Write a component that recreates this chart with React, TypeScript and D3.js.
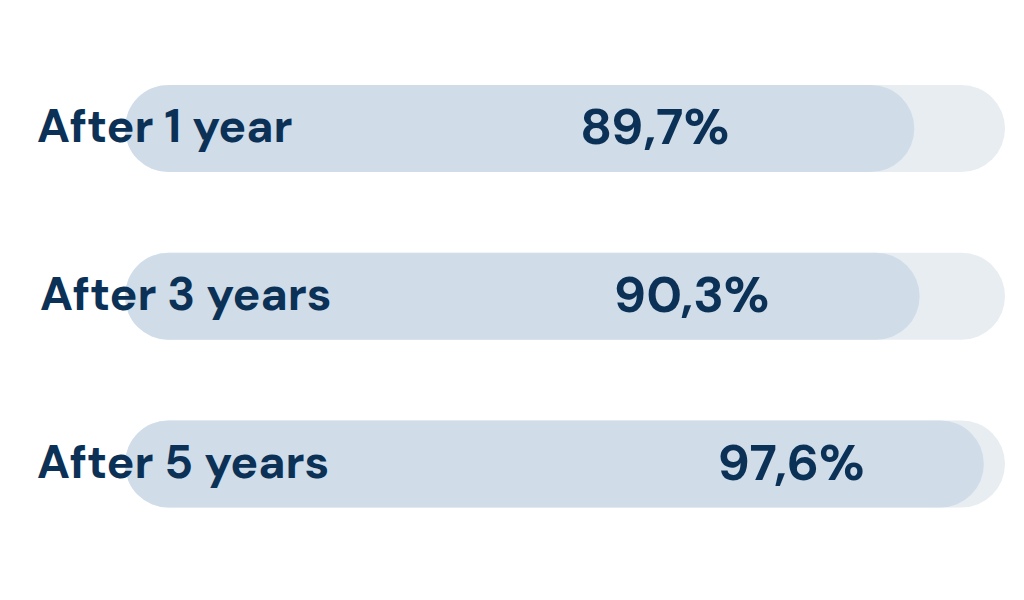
import React from "react";
import * as d3 from "d3";

// --- Data ---
const periods = ["After 1 year", "After 3 years", "After 5 years"];
const rates = [89.7, 90.3, 97.6];
const rateLabels = ["89,7%", "90,3%", "97,6%"];

// layout only: where the value text sits along the bar (in % units)
const valueTextAt = [60.2, 64.4, 75.7];
const labelX = [37, 40, 37];

const W = 1024;
const H = 600;
const NAVY = "#0c3157";
const BAR = "#d0dde9";
const TRACK = "#e8edf2";
const FONT = "'DM Sans', Inter, 'Open Sans', sans-serif";

const App: React.FC = () => {
  const x = d3.scaleLinear().domain([0, 100]).range([125, 1005]);
  const y = d3.scalePoint<string>().domain(periods).range([128.5, 464]);
  const barH = 87;
  const r = barH / 2;

  return (
    <div style={{ position: "absolute", left: 0, top: 0 }}>
      <svg width={W} height={H} style={{ display: "block", background: "#fff" }}>
        {periods.map((p, i) => {
          const cy = y(p)!;
          return (
            <g key={p}>
              {/* background track */}
              <rect
                x={x(0)}
                y={cy - r}
                width={x(100) - x(0)}
                height={barH}
                rx={r}
                fill={TRACK}
              />
              {/* value bar */}
              <rect
                x={x(0)}
                y={cy - r}
                width={x(rates[i]) - x(0)}
                height={barH}
                rx={r}
                fill={BAR}
              />
              <text
                x={labelX[i]}
                y={cy + 13.5}
                fill={NAVY}
                fontFamily={FONT}
                fontWeight={700}
                fontSize={46.5}
              >
                {p}
              </text>
              <text
                x={x(valueTextAt[i])}
                y={cy + 15.5}
                textAnchor="middle"
                fill={NAVY}
                fontFamily={FONT}
                fontWeight={700}
                fontSize={51}
              >
                {rateLabels[i]}
              </text>
            </g>
          );
        })}
      </svg>
    </div>
  );
};

export default App;
